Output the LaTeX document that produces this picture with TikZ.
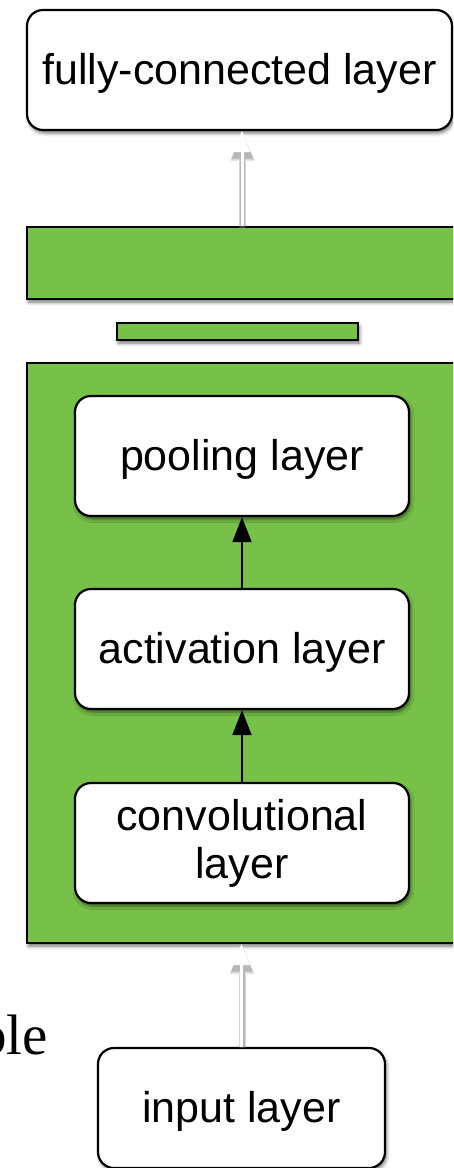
\documentclass[tikz,border=0pt]{standalone}
\usepackage{fontspec}
\setmainfont{Liberation Sans}
\newfontfamily\timesface{Liberation Serif}
\usetikzlibrary{arrows.meta,shadows.blur}
\definecolor{layergreen}{RGB}{119,193,72}
\tikzset{
  softshadow/.style={blur shadow={shadow xshift=1.5pt, shadow yshift=-3pt, shadow blur radius=3.5pt, shadow opacity=55}},
  layerbox/.style={draw=black, line width=2.2pt, fill=white, rounded corners=16pt,
    minimum height=120pt, inner sep=0pt, align=center,
    font=\fontsize{43}{48}\selectfont, softshadow},
  oneline/.style={text height=37pt, text depth=9pt},
  greenblock/.style={draw=black, line width=2pt, fill=layergreen, inner sep=0pt, softshadow},
  flow/.style={line width=2pt, -{Triangle[width=19pt,length=25pt]}},
  passarrow/.style={line width=3pt, draw=white,
    -{Triangle[width=17pt,length=21pt,line width=0pt,fill=white]}},
  passhalo/.style={line width=#1, draw=black!55, opacity=0.3,
    -{Triangle[width=17pt+#1,length=21pt+#1,line width=0pt,fill=black!55]},
    transform canvas={xshift=0.5pt,yshift=-1.5pt}}
}
\begin{document}
\begin{tikzpicture}[x=1pt,y=-1pt]
  \useasboundingbox (0,0) rectangle (453,1168);
  \clip (0,0) rectangle (453,1168);

  % stacked blocks
  \node[layerbox, oneline, minimum width=425pt] (fc) at (239.5,70) {fully-connected layer};
  \node[greenblock, minimum width=463pt, minimum height=72pt] (gbar) at (258.5,263) {};
  \node[greenblock, minimum width=241pt, minimum height=17pt] (sbar) at (237.5,331.5) {};
  \node[greenblock, minimum width=463pt, minimum height=580pt] (cnn) at (258.5,653) {};

  % inner layers of the convolution block
  \node[layerbox, oneline, minimum width=334pt] (pool) at (242,456) {pooling layer};
  \node[layerbox, oneline, minimum width=334pt] (act) at (242,649) {activation layer};
  \node[layerbox, minimum width=334pt] (conv) at (242,843) {convolutional\\layer};

  \node[layerbox, oneline, minimum width=287pt] (input) at (241.5,1108) {input layer};

  % partial caption text at the left edge
  \node[font=\timesface\fontsize{57}{60}\selectfont, anchor=base east, inner sep=0pt] (ble) at (48,1054) {ble};

  % connectors inside the block
  \draw[flow] (conv.north) -- (act.south);
  \draw[flow] (act.north) -- (pool.south);

  % white connectors between the blocks, each over a soft grey glow
  \foreach \w in {7pt,5pt} {
    \draw[passhalo=\w] (input.north) -- (cnn.south -| input.north);
    \draw[passhalo=\w] (gbar.north -| pool.north) -- (fc.south -| pool.north);
  }
  \draw[passarrow] (input.north) -- (cnn.south -| input.north);
  \draw[passarrow] (gbar.north -| pool.north) -- (fc.south -| pool.north);
\end{tikzpicture}
\end{document}
